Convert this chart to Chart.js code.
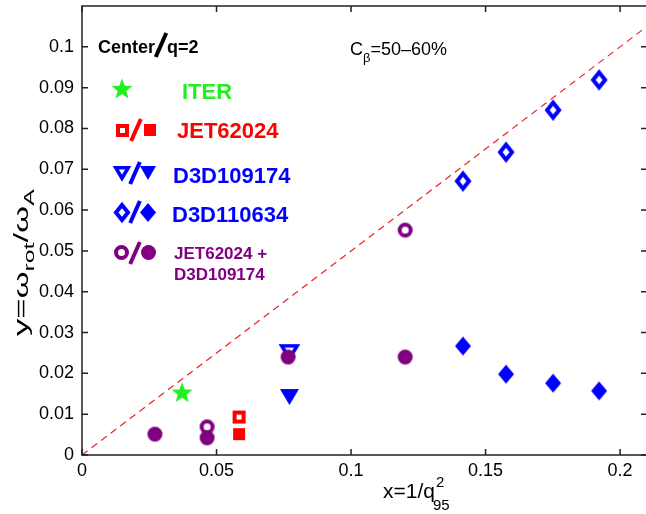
<!DOCTYPE html>
<html>
<head>
<meta charset="utf-8">
<script src="https://cdn.jsdelivr.net/npm/chart.js@4.4.0/dist/chart.umd.min.js"></script>
<style>
  html, body { margin: 0; padding: 0; background: #fff; overflow: hidden; }
  #wrap { width: 646px; height: 514px; overflow: hidden; }
  canvas { display: block; }
</style>
</head>
<body>
<div id="wrap"><canvas id="rot-chart" width="650" height="514"></canvas></div>
<script>
// x = 1/q95^2 , y = omega_rot/omega_A at the q=2 surface
const iterX = [0.0372];
const iterY = [0.0154];

const jetOpenX = [0.0584];
const jetOpenY = [0.0093];
const jetFilledX = [0.0584];
const jetFilledY = [0.0051];

const d3d174OpenX = [0.0771];
const d3d174OpenY = [0.0252];
const d3d174FilledX = [0.0771];
const d3d174FilledY = [0.0142];

const d3d634X = [0.1416, 0.1576, 0.1751, 0.1922];
const d3d634OpenY = [0.0671, 0.0742, 0.0845, 0.0919];
const d3d634FilledY = [0.0267, 0.0198, 0.0176, 0.0157];

const mixOpenX = [0.0465, 0.1201];
const mixOpenY = [0.0069, 0.0551];
const mixFilledX = [0.0271, 0.0465, 0.0766, 0.1201];
const mixFilledY = [0.0051, 0.0042, 0.0240, 0.0240];

// y = x/2 reference line
const lineX = [0, 0.21];
const lineY = [0, 0.105];

const xTicks = [0, 0.05, 0.1, 0.15, 0.2];
const xTickLabels = ["0", "0.05", "0.1", "0.15", "0.2"];
const yTicks = [0, 0.01, 0.02, 0.03, 0.04, 0.05, 0.06, 0.07, 0.08, 0.09, 0.1];
const yTickLabels = ["0", "0.01", "0.02", "0.03", "0.04", "0.05", "0.06", "0.07", "0.08", "0.09", "0.1"];

const GREEN = "#22ee22";
const RED = "#ff0000";
const BLUE = "#0000ff";
const PURPLE = "#800080";
const FONT = "'Liberation Sans', Arial, Helvetica, sans-serif";

Chart.defaults.font.family = FONT;
Chart.defaults.color = "#000";

const pts = (xs, ys) => xs.map((x, i) => ({ x, y: ys[i] }));

// marker images (MATLAB style open / filled symbols)
function marker(shape, w, h, color, filled, lw) {
    const pad = 3;
    const c = document.createElement("canvas");
    c.width = Math.round(w + pad * 2);
    c.height = Math.round(h + pad * 2);
    const g = c.getContext("2d");
    g.translate(c.width / 2, c.height / 2);
    const k = filled ? 0 : lw / 2;
    const hw = w / 2 - k, hh = h / 2 - k;
    g.beginPath();
    if (shape === "diamond") {
        g.moveTo(0, -hh); g.lineTo(hw, 0); g.lineTo(0, hh); g.lineTo(-hw, 0);
    } else if (shape === "square") {
        g.rect(-hw, -hh, hw * 2, hh * 2);
    } else if (shape === "tri") {
        g.moveTo(-hw, -hh); g.lineTo(hw, -hh); g.lineTo(0, hh);
    } else if (shape === "circle") {
        g.arc(0, 0, hw, 0, Math.PI * 2);
    } else if (shape === "star") {
        for (let i = 0; i < 10; i++) {
            const r = i % 2 === 0 ? hw : hw * 0.42;
            const a = -Math.PI / 2 + i * Math.PI / 5;
            g.lineTo(Math.cos(a) * r, Math.sin(a) * r + 1);
        }
    }
    g.closePath();
    if (filled) {
        g.fillStyle = color;
        g.fill();
    } else {
        g.fillStyle = "#fff";
        g.fill();
        g.lineWidth = lw;
        g.lineJoin = "miter";
        g.strokeStyle = color;
        g.stroke();
    }
    return c;
}

const mk = {
    star: marker("star", 22, 21, GREEN, true),
    sqOpen: marker("square", 13, 13, RED, false, 4),
    sqFill: marker("square", 12, 12, RED, true),
    triOpen: marker("tri", 19, 16, BLUE, false, 3.5),
    triFill: marker("tri", 19, 16, BLUE, true),
    diaOpen: marker("diamond", 16, 19, BLUE, false, 4),
    diaFill: marker("diamond", 16, 19, BLUE, true),
    cirOpen: marker("circle", 15, 15, PURPLE, false, 4),
    cirFill: marker("circle", 15, 15, PURPLE, true),
    legTriOpen: marker("tri", 16, 14, BLUE, false, 3.5),
    legTriFill: marker("tri", 16, 14, BLUE, true),
};

function scatterSet(data, style, order) {
    return { data, pointStyle: style, pointRadius: 8, order };
}

// frame with inward ticks on all four sides
const framePlugin = {
    id: "frame",
    afterDatasetsDraw(chart) {
        const { ctx, chartArea: a, scales: { x, y } } = chart;
        ctx.save();
        ctx.strokeStyle = "#222";
        ctx.lineWidth = 1.5;
        ctx.strokeRect(a.left, a.top, a.right - a.left, a.bottom - a.top);
        ctx.beginPath();
        x.ticks.forEach(t => {
            const px = x.getPixelForValue(t.value);
            ctx.moveTo(px, a.bottom); ctx.lineTo(px, a.bottom - 6);
            ctx.moveTo(px, a.top); ctx.lineTo(px, a.top + 6);
        });
        y.ticks.forEach(t => {
            const py = y.getPixelForValue(t.value);
            ctx.moveTo(a.left, py); ctx.lineTo(a.left + 6, py);
            ctx.moveTo(a.right, py); ctx.lineTo(a.right - 6, py);
        });
        ctx.stroke();
        ctx.restore();
    }
};

function text(ctx, s, x, y, font, color) {
    ctx.font = font;
    ctx.fillStyle = color;
    ctx.fillText(s, x, y);
    return x + ctx.measureText(s).width;
}

function slash(ctx, cx, cy, h, color) {
    ctx.save();
    ctx.strokeStyle = color;
    ctx.lineWidth = 4;
    ctx.beginPath();
    ctx.moveTo(cx - h * 0.22, cy + h / 2);
    ctx.lineTo(cx + h * 0.22, cy - h / 2);
    ctx.stroke();
    ctx.restore();
}

function stamp(ctx, img, cx, cy) {
    ctx.drawImage(img, Math.round(cx - img.width / 2), Math.round(cy - img.height / 2));
}

// legend block, annotation and axis titles
const notesPlugin = {
    id: "notes",
    afterDraw(chart) {
        const ctx = chart.ctx;
        ctx.save();
        ctx.textBaseline = "alphabetic";

        const big = "bold 22px " + FONT;
        let x = text(ctx, "Center", 98, 53, "bold 18px " + FONT, "#000");
        slash(ctx, x + 6, 45, 24, "#000");
        text(ctx, "q=2", x + 12, 53, "bold 18px " + FONT, "#000");

        x = text(ctx, "C", 350, 55, "18px " + FONT, "#000");
        x = text(ctx, "\u03b2", x, 62, "13px " + FONT, "#000");
        text(ctx, "=50\u201360%", x, 55, "18px " + FONT, "#000");

        stamp(ctx, mk.star, 122, 88);
        text(ctx, "ITER", 182, 99, big, GREEN);

        stamp(ctx, mk.sqOpen, 122, 130);
        slash(ctx, 136, 130, 22, RED);
        stamp(ctx, mk.sqFill, 150, 130);
        text(ctx, "JET62024", 177, 138, big, RED);

        stamp(ctx, mk.legTriOpen, 122, 173);
        slash(ctx, 135, 173, 22, BLUE);
        stamp(ctx, mk.legTriFill, 148, 173);
        text(ctx, "D3D109174", 173, 183, big, BLUE);

        stamp(ctx, mk.diaOpen, 122, 212);
        slash(ctx, 135, 212, 22, BLUE);
        stamp(ctx, mk.diaFill, 148, 212);
        text(ctx, "D3D110634", 172, 222, big, BLUE);

        stamp(ctx, mk.cirOpen, 121, 252);
        slash(ctx, 135, 253, 22, PURPLE);
        stamp(ctx, mk.cirFill, 148, 252);
        text(ctx, "JET62024 +", 174, 259, "bold 17px " + FONT, PURPLE);
        text(ctx, "D3D109174", 174, 280, "bold 17px " + FONT, PURPLE);

        // x axis title: x=1/q95^2
        x = text(ctx, "x=1/q", 383, 498, "21px " + FONT, "#000");
        text(ctx, "2", x + 1, 487, "15px " + FONT, "#000");
        text(ctx, "95", x - 2, 510, "15px " + FONT, "#000");

        // y axis title: y=omega_rot/omega_A (rotated, set wide)
        ctx.translate(28, 336);
        ctx.rotate(-Math.PI / 2);
        ctx.scale(1.65, 1);
        x = text(ctx, "y=\u03c9", 0, 0, "21px " + FONT, "#000");
        x = text(ctx, "rot", x, 6, "15px " + FONT, "#000");
        x = text(ctx, "/\u03c9", x, 0, "21px " + FONT, "#000");
        text(ctx, "A", x, 6, "15px " + FONT, "#000");

        ctx.restore();
    }
};

// fixed axis boxes, no extra room for the end labels
function fixBox(s, w, h) {
    if (w) s.width = w;
    if (h) s.height = h;
    s.paddingTop = 0;
    s.paddingBottom = 0;
    s.paddingLeft = 0;
    s.paddingRight = 0;
}

new Chart(document.getElementById("rot-chart"), {
    type: "scatter",
    data: {
        datasets: [
            scatterSet(pts(mixFilledX, mixFilledY), mk.cirFill, 1),
            scatterSet(pts(mixOpenX, mixOpenY), mk.cirOpen, 2),
            scatterSet(pts(iterX, iterY), mk.star, 3),
            scatterSet(pts(jetOpenX, jetOpenY), mk.sqOpen, 4),
            scatterSet(pts(jetFilledX, jetFilledY), mk.sqFill, 5),
            scatterSet(pts(d3d174OpenX, d3d174OpenY), mk.triOpen, 6),
            scatterSet(pts(d3d174FilledX, d3d174FilledY), mk.triFill, 7),
            scatterSet(pts(d3d634X, d3d634OpenY), mk.diaOpen, 8),
            scatterSet(pts(d3d634X, d3d634FilledY), mk.diaFill, 9),
            {
                data: pts(lineX, lineY),
                showLine: true,
                pointRadius: 0,
                borderColor: "#ee2222",
                borderWidth: 1.2,
                borderDash: [7, 5],
                order: 20
            }
        ]
    },
    options: {
        responsive: false,
        animation: false,
        events: [],
        layout: { autoPadding: false, padding: { top: 6, right: 3, left: 0, bottom: 0 } },
        plugins: { legend: { display: false }, tooltip: { enabled: false } },
        scales: {
            x: {
                type: "linear",
                min: 0,
                max: 0.21,
                afterFit: s => fixBox(s, 0, 59),
                afterBuildTicks: s => { s.ticks = xTicks.map(v => ({ value: v })); },
                grid: { display: false, drawTicks: false },
                border: { display: false },
                ticks: {
                    padding: 5,
                    font: { size: 18 },
                    color: "#000",
                    maxRotation: 0,
                    callback: (v, i) => xTickLabels[i]
                }
            },
            y: {
                type: "linear",
                min: 0,
                max: 0.11,
                afterFit: s => fixBox(s, 82, 0),
                afterBuildTicks: s => { s.ticks = yTicks.map(v => ({ value: v })); },
                grid: { display: false, drawTicks: false },
                border: { display: false },
                ticks: {
                    padding: 8,
                    font: { size: 18 },
                    color: "#000",
                    callback: (v, i) => yTickLabels[i]
                }
            }
        }
    },
    plugins: [framePlugin, notesPlugin]
});
</script>
</body>
</html>
